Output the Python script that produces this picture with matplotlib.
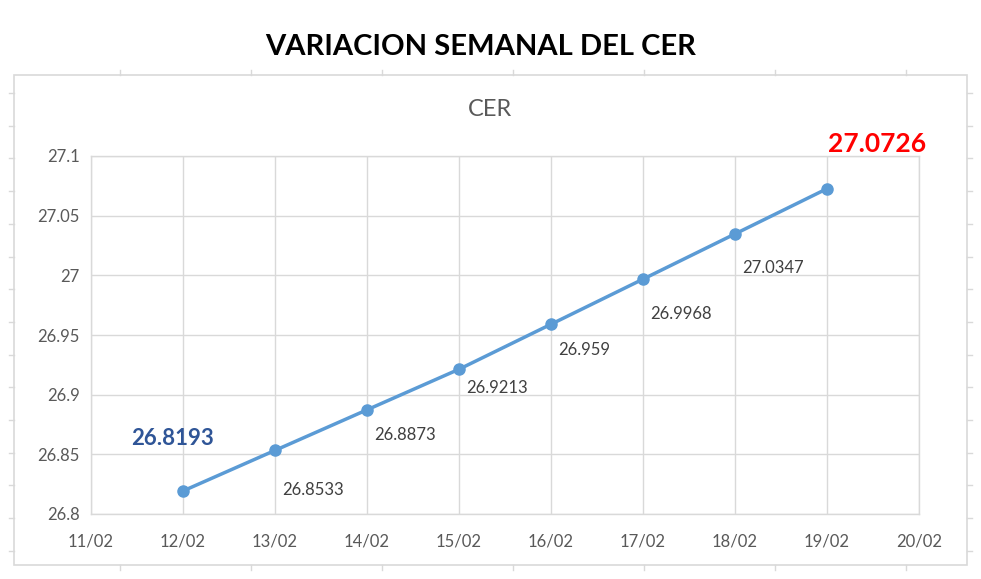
import matplotlib.pyplot as plt
import numpy as np
from matplotlib.lines import Line2D
from matplotlib.patches import Rectangle

plt.rcParams["font.family"] = ["Lato", "DejaVu Sans"]

# Data
dates = ["12/02", "13/02", "14/02", "15/02", "16/02", "17/02", "18/02", "19/02"]
cer = [26.8193, 26.8533, 26.8873, 26.9213, 26.959, 26.9968, 27.0347, 27.0726]
x_labels = ["11/02", "12/02", "13/02", "14/02", "15/02", "16/02", "17/02", "18/02", "19/02", "20/02"]
y_ticks = [26.8, 26.85, 26.9, 26.95, 27, 27.05, 27.1]

W, H = 981, 579
fig = plt.figure(figsize=(W / 100, H / 100), dpi=100)
fig.patch.set_facecolor("white")

# outer frame (sheet cell borders)
grey = "#D9D9D9"
fig.patches.append(Rectangle((14 / W, 1 - 565 / H), 953 / W, 490 / H,
                             transform=fig.transFigure, fill=False,
                             edgecolor=grey, lw=1.2))
for yy in np.arange(93, 565, 32.7):
    fig.lines.append(Line2D([9 / W, 14 / W], [1 - yy / H] * 2,
                            transform=fig.transFigure, color=grey, lw=1))
    fig.lines.append(Line2D([967 / W, 972 / W], [1 - yy / H] * 2,
                            transform=fig.transFigure, color=grey, lw=1))
for xx in np.arange(120, 967, 131):
    fig.lines.append(Line2D([xx / W] * 2, [1 - 70 / H, 1 - 75 / H],
                            transform=fig.transFigure, color=grey, lw=1))
    fig.lines.append(Line2D([xx / W] * 2, [1 - 565 / H, 1 - 570 / H],
                            transform=fig.transFigure, color=grey, lw=1))

ax = fig.add_axes([91 / W, 1 - 514 / H, 828 / W, 358 / H])
xs = np.arange(1, len(dates) + 1)
ax.plot(xs, cer, color="#5B9BD5", lw=2.5, marker="o", markersize=8, zorder=3)

ax.set_xlim(0, len(x_labels) - 1)
ax.set_xticks(range(len(x_labels)))
ax.set_xticklabels(x_labels)
ax.set_ylim(26.8, 27.1)
ax.set_yticks(y_ticks)
ax.set_yticklabels([f"{v:g}" for v in y_ticks])
ax.grid(True, color=grey, lw=1)
ax.set_axisbelow(True)
for s in ax.spines.values():
    s.set_color(grey)
    s.set_linewidth(1)
ax.tick_params(length=0, labelsize=12, colors="#595959", pad=14)
ax.tick_params(axis="y", pad=8)

# data labels for the middle points
label_dy = [-40, -25, -19, -26, -35, -34]
for i in range(1, len(cer) - 1):
    ax.annotate(f"{cer[i]:g}", (xs[i], cer[i]), xytext=(7, label_dy[i - 1]),
                textcoords="offset pixels", ha="left", va="center",
                fontsize=12, color="#404040")

ax.annotate(f"{cer[0]:g}", (xs[0], cer[0]), xytext=(-10, 52),
            textcoords="offset pixels", ha="center", va="center",
            fontsize=16, fontweight="bold", color="#2F5597")
ax.annotate(f"{cer[-1]:g}", (xs[-1], cer[-1]), xytext=(50, 45),
            textcoords="offset pixels", ha="center", va="center",
            fontsize=19, fontweight="bold", color="#FF0000")

fig.text(490 / W, 1 - 110 / H, "CER", ha="center", va="center",
         fontsize=17, color="#595959")
fig.text(481 / W, 1 - 47 / H, "VARIACION SEMANAL DEL CER", ha="center",
         va="center", fontsize=21, fontweight="bold", color="black")

fig.savefig("out.png", dpi=100)
